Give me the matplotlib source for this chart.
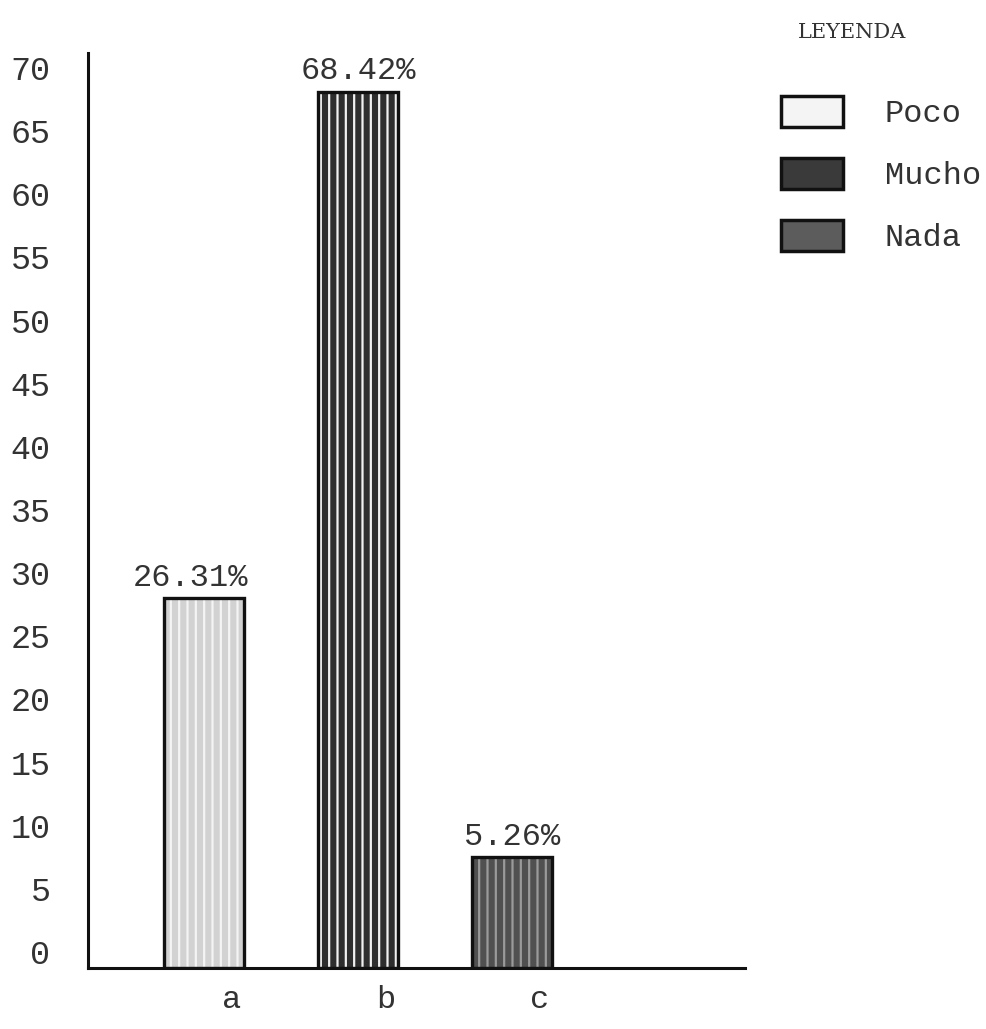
import matplotlib
matplotlib.use('Agg')
import matplotlib.pyplot as plt
import matplotlib.transforms as mtransforms
from matplotlib.patches import Patch
import numpy as np

plt.rcParams['font.family'] = ['Liberation Mono', 'DejaVu Sans Mono']
plt.rcParams['hatch.linewidth'] = 1.6

categories = ['a', 'b', 'c']
heights = [28.0, 68.1, 7.5]
value_labels = ['26.31%', '68.42%', '5.26%']
legend_names = ['Poco', 'Mucho', 'Nada']
fills = ['#d2d2d2', '#2e2e2e', '#505050']
stripes = ['#f4f4f4', '#f0f0f0', '#9a9a9a']

fig = plt.figure(figsize=(9.87, 10.29), dpi=100)
W, H = 987, 1029
ax = fig.add_axes([88 / W, 1 - 968 / H, (745 - 88) / W, (968 - 53) / H])

y_base = -1.27
ax.set_ylim(y_base, 71.19)
ax.set_xlim(-0.753, 3.513)

x = np.arange(len(categories))
bar_h = [h - y_base for h in heights]
ax.bar(x, bar_h, width=0.52, bottom=y_base, color=fills, edgecolor=stripes,
       linewidth=0, hatch='||', zorder=2)
ax.bar(x, bar_h, width=0.52, bottom=y_base, facecolor='none',
       edgecolor='#111111', linewidth=2.4, zorder=3)

offsets = [-10, 0, 0]
for xi, h, lab, off in zip(x, heights, value_labels, offsets):
    ax.annotate(lab, (xi, h), xytext=(off, 4), textcoords='offset points',
                ha='center', va='bottom', fontsize=23, color='#333333')

ax.set_yticks(range(0, 71, 5))
ax.set_xticks(x)
ax.set_xticklabels(categories)
ax.tick_params(axis='y', length=0, pad=27, labelsize=24, colors='#333333')
ax.tick_params(axis='x', length=0, pad=12, labelsize=23, colors='#333333')
shift = mtransforms.ScaledTranslation(28 / 100, 0, fig.dpi_scale_trans)
for t in ax.get_xticklabels():
    t.set_transform(t.get_transform() + shift)

for s in ['top', 'right']:
    ax.spines[s].set_visible(False)
ax.spines['left'].set_linewidth(2.2)
ax.spines['bottom'].set_linewidth(2.2)
ax.spines['left'].set_color('#111111')
ax.spines['bottom'].set_color('#111111')

fig.text(852 / W, 1 - 33 / H, 'LEYENDA', ha='center', va='center',
         fontsize=15, family='DejaVu Serif', color='#333333')
handles = [Patch(facecolor=f, edgecolor='#111111', linewidth=2.5, label=n)
           for f, n in zip(['#f4f4f4', '#3a3a3a', '#5c5c5c'], legend_names)]
fig.legend(handles=handles, loc='upper left', bbox_to_anchor=(781 / W, 1 - 96 / H),
           frameon=False, fontsize=23, handlelength=1.95, handleheight=1.1,
           handletextpad=1.3, labelspacing=0.9, borderpad=0, borderaxespad=0,
           labelcolor='#333333')

fig.savefig('out.png', dpi=100)
